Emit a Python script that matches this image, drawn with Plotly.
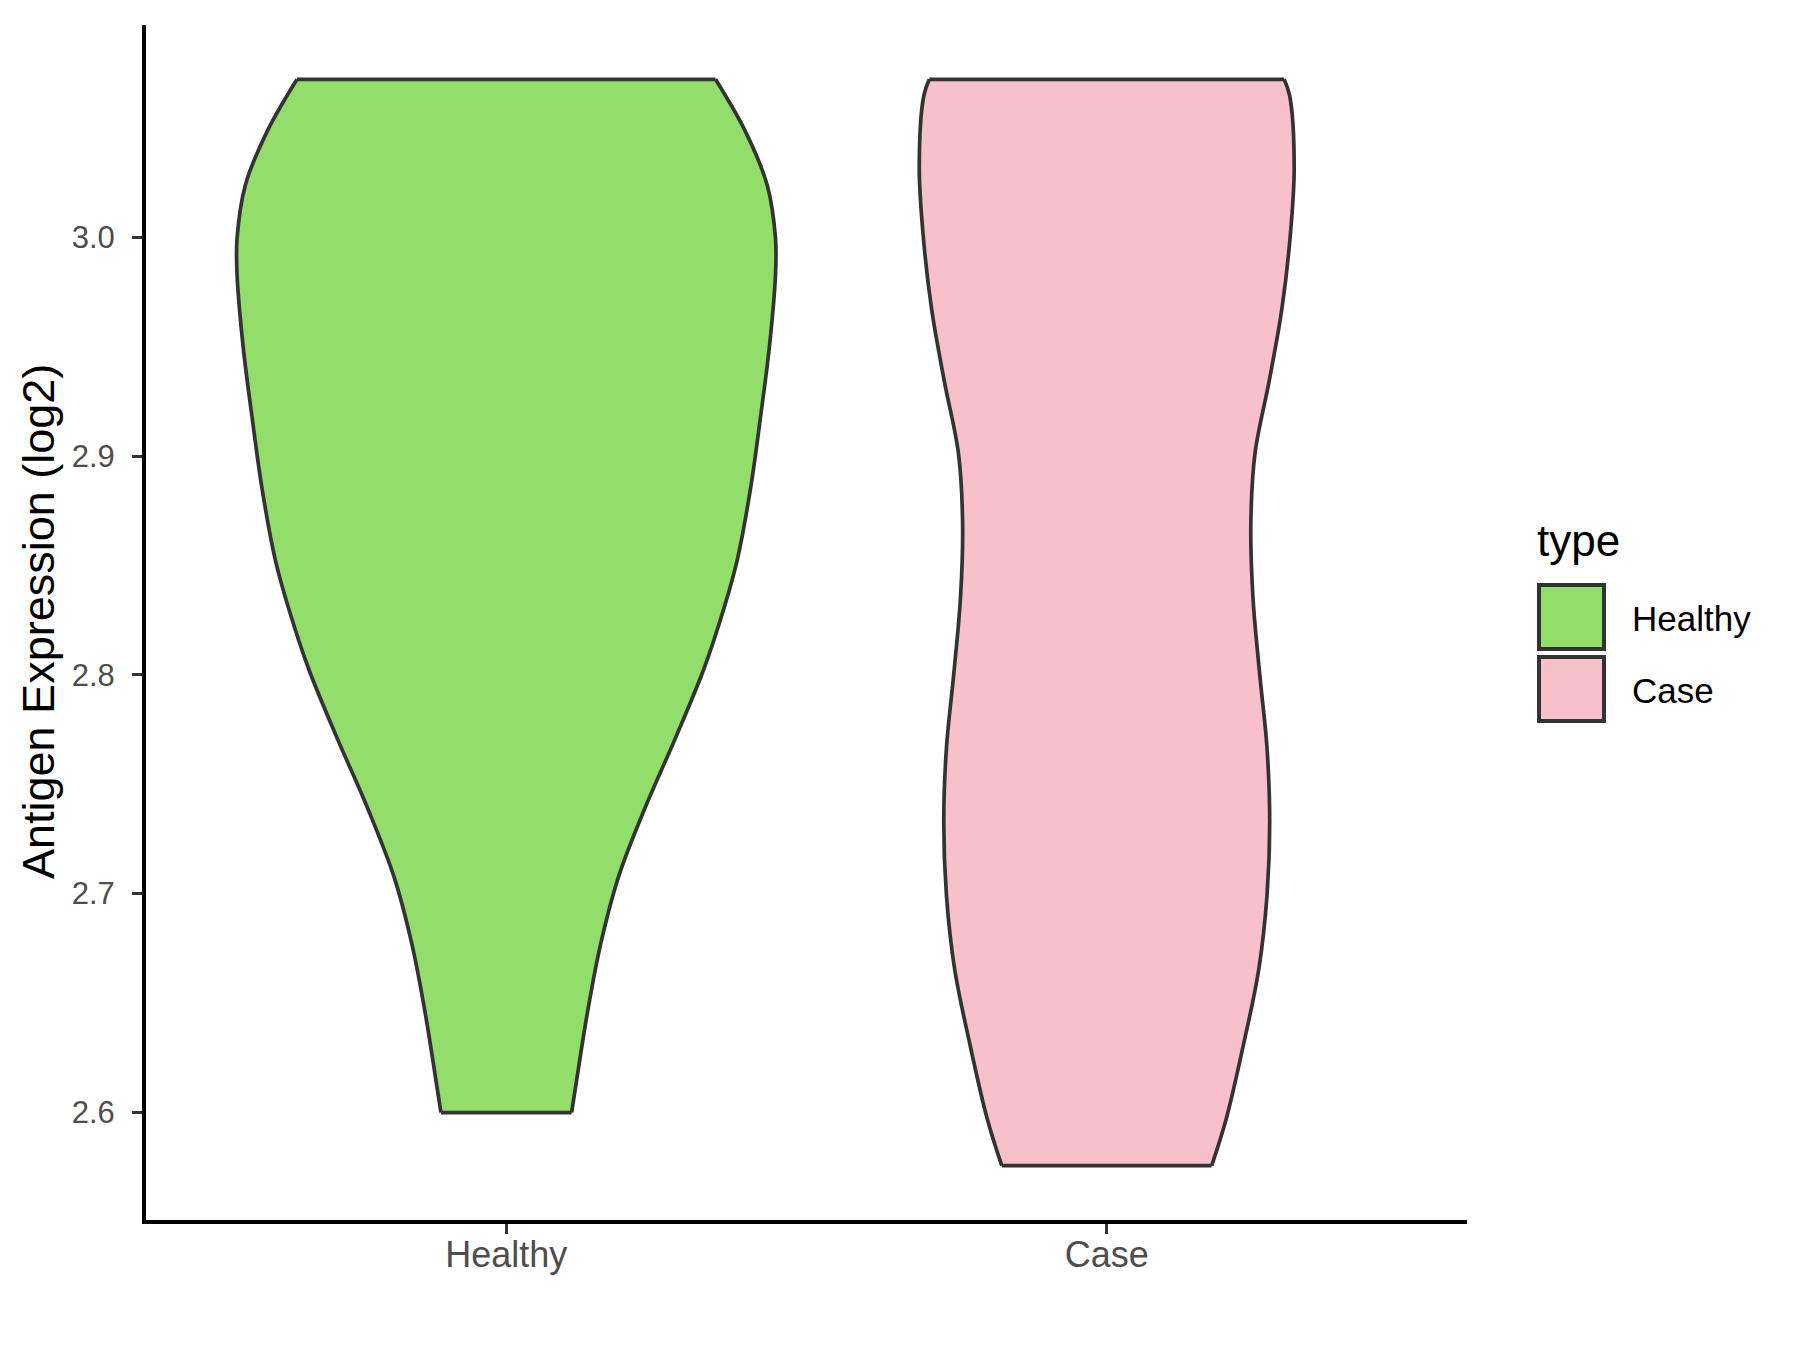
import plotly.graph_objects as go

# ---------------- data ----------------
categories = ["Healthy", "Case"]
fill_colors = ["#93DD6B", "#F7C0CB"]

# violin outline: y value and half-width (in x-axis category units)
healthy_y = [3.0723, 3.0484, 3.0239, 2.9994, 2.9832, 2.9505, 2.9179, 2.8852, 2.8525,
             2.8300, 2.8028, 2.7712, 2.7397, 2.7082, 2.6767, 2.6452, 2.6137, 2.5999]
healthy_hw = [0.3485, 0.3984, 0.4346, 0.4484, 0.4484, 0.4384, 0.4234, 0.4068, 0.3846,
              0.3620, 0.3292, 0.2819, 0.2319, 0.1876, 0.1570, 0.1349, 0.1166, 0.1088]

case_y = [3.0723, 3.0647, 3.0321, 2.9994, 2.9668, 2.9343, 2.9014, 2.8689, 2.8351,
          2.8005, 2.7667, 2.7328, 2.6990, 2.6652, 2.6314, 2.5973, 2.5756]
case_hw = [0.2955, 0.3047, 0.3122, 0.3052, 0.2914, 0.2705, 0.2470, 0.2400, 0.2436,
           0.2547, 0.2669, 0.2714, 0.2669, 0.2531, 0.2281, 0.1993, 0.1748]

y_ticks = [2.6, 2.7, 2.8, 2.9, 3.0]
y_title = "Antigen Expression (log2)"
legend_title = "type"

# ---------------- layout constants ----------------
W, H = 1800, 1350
OFF = 8  # page body margin of the html page
PW, PH = 1321, 1195
L, T = 146 - OFF, 25 - OFF
R, B = W - L - PW, H - T - PH
FONT = "Liberation Sans, Arial, Helvetica, sans-serif"
OUT = "#333333"


def px_x(p):
    # p = screen pixel x in the photographed page
    return (p - OFF - L) / PW


def px_y(p):
    return (H - B - (p - OFF)) / PH


fig = go.Figure()

profiles = [(healthy_y, healthy_hw), (case_y, case_hw)]
for i, (cat, (ys, hws), col) in enumerate(zip(categories, profiles, fill_colors)):
    pos = i + 1
    right = [pos + w for w in hws]
    left = [pos - w for w in hws]
    fig.add_trace(go.Scatter(x=right, y=ys, mode="lines",
                             line=dict(width=0, shape="spline", color=col),
                             showlegend=False, hoverinfo="skip"))
    fig.add_trace(go.Scatter(x=left, y=ys, mode="lines", fill="tonextx", fillcolor=col,
                             line=dict(width=0, shape="spline", color=col),
                             showlegend=False, hoverinfo="skip"))
for i, (cat, (ys, hws), col) in enumerate(zip(categories, profiles, fill_colors)):
    pos = i + 1
    right = [pos + w for w in hws]
    left = [pos - w for w in hws]
    for edge in (right, left):
        fig.add_trace(go.Scatter(x=edge, y=ys, mode="lines",
                                 line=dict(width=3.7, shape="spline", color=OUT),
                                 showlegend=False, hoverinfo="skip"))
    fig.add_trace(go.Scatter(x=[left[0], right[0], None, left[-1], right[-1]],
                             y=[ys[0], ys[0], None, ys[-1], ys[-1]], mode="lines",
                             line=dict(width=3.7, color=OUT),
                             showlegend=False, hoverinfo="skip"))

all_y = healthy_y + case_y
ymin, ymax = min(all_y), max(all_y)
pad = 0.05 * (ymax - ymin)

fig.update_xaxes(range=[0.4, 2.6], tickvals=[1, 2], ticktext=categories,
                 showline=True, linecolor="black", linewidth=4,
                 ticks="outside", ticklen=10, tickwidth=3.3, tickcolor=OUT,
                 ticklabelstandoff=-10,
                 tickfont=dict(family=FONT, size=36, color="#4D4D4D"),
                 showgrid=False, zeroline=False, fixedrange=True)
fig.update_yaxes(range=[ymin - pad, ymax + pad], tickvals=y_ticks, tickformat=".1f",
                 showline=True, linecolor="black", linewidth=4,
                 ticks="outside", ticklen=10, tickwidth=3.3, tickcolor=OUT,
                 ticklabelstandoff=11,
                 tickfont=dict(family=FONT, size=31, color="#4D4D4D"),
                 showgrid=False, zeroline=False, fixedrange=True)

annotations = [
    dict(text=y_title, x=px_x(38), y=px_y(622), xref="paper", yref="paper",
         textangle=-90, showarrow=False, xanchor="center", yanchor="middle",
         font=dict(family=FONT, size=45, color="black")),
    dict(text=legend_title, x=px_x(1535), y=px_y(540), xref="paper", yref="paper",
         showarrow=False, xanchor="left", yanchor="middle",
         font=dict(family=FONT, size=44, color="black")),
]
shapes = []
key_tops = [585, 657]
for cat, col, top in zip(categories, fill_colors, key_tops):
    shapes.append(dict(type="rect", xref="paper", yref="paper",
                       x0=px_x(1539), x1=px_x(1604), y0=px_y(top + 64), y1=px_y(top),
                       fillcolor=col, line=dict(color=OUT, width=4)))
    annotations.append(dict(text=cat, x=px_x(1630), y=px_y(top + 33), xref="paper",
                            yref="paper", showarrow=False, xanchor="left",
                            yanchor="middle",
                            font=dict(family=FONT, size=35, color="black")))

fig.update_layout(width=W, height=H, margin=dict(l=L, r=R, t=T, b=B, pad=0),
                  plot_bgcolor="white", paper_bgcolor="white",
                  font=dict(family=FONT), showlegend=False,
                  annotations=annotations, shapes=shapes)

fig.write_html("out.html")
